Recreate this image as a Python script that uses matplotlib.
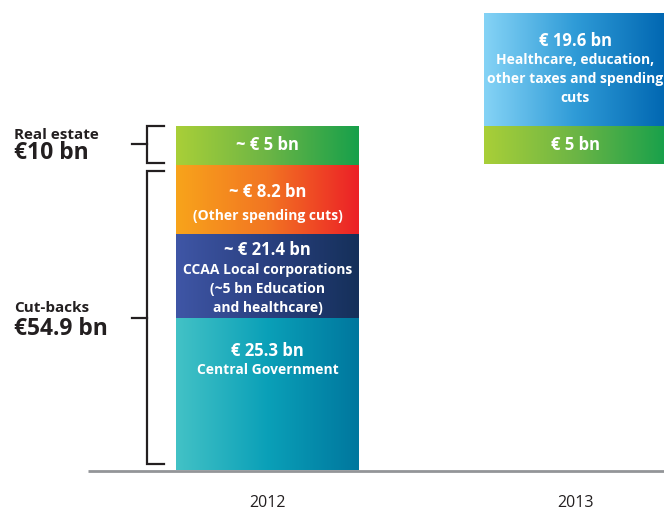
import numpy as np
import matplotlib.pyplot as plt
from matplotlib.colors import LinearSegmentedColormap

plt.rcParams['font.family'] = ['Open Sans', 'DejaVu Sans']

# data (segments drawn bottom to top; bar heights as drawn, the chart is not to scale)
years = ['2012', '2013']
seg_2012 = [15.2, 8.4, 6.9, 3.9]
seg_2013 = [3.8, 11.3]
base_2013 = 30.6  # 2013 bar starts where the 2012 real-estate block starts
values_2012 = ['€ 25.3 bn', '~ € 21.4 bn', '~ € 8.2 bn', '~ € 5 bn']
notes_2012 = ['Central Government', 'CCAA Local corporations\n(~5 bn Education\nand healthcare)',
              '(Other spending cuts)', '']
values_2013 = ['€ 5 bn', '€ 19.6 bn']
notes_2013 = ['', 'Healthcare, education,\nother taxes and spending\ncuts']
group_names = ['Real estate', 'Cut-backs']
group_totals = ['€10 bn', '€54.9 bn']

# gradients left -> right
grad_2012 = [['#43c2c6', '#0aa0b8', '#00779e'],
             ['#3f56a6', '#2a4080', '#15305a'],
             ['#f8a41b', '#f27522', '#ec2027'],
             ['#a9cf38', '#6cb545', '#17a04b']]
grad_2013 = [['#a9cf38', '#6cb545', '#17a04b'],
             ['#85d3f6', '#2f9bd7', '#0066b1']]

# where the labels sit, measured down from the segment top
val_off_2012 = [3.3, 1.6, 2.7, None]
note_off_2012 = [5.2, 5.5, 5.1, None]
val_off_2013 = [None, 2.8]
note_off_2013 = [None, 6.6]

dark = '#231f20'
W = 0.595

fig = plt.figure(figsize=(6.64, 5.13), dpi=100)
ax = fig.add_axes([0, 0, 1, 1])


def grad_bar(x, bottom, height, colors):
    bar = ax.bar(x, height, W, bottom=bottom, color='none', edgecolor='none')[0]
    cmap = LinearSegmentedColormap.from_list('g', colors)
    img = ax.imshow(np.linspace(0, 1, 256).reshape(1, -1), cmap=cmap, aspect='auto',
                    extent=(x - W / 2, x + W / 2, bottom, bottom + height), zorder=1,
                    interpolation='bilinear')
    img.set_clip_path(bar)


def put_labels(x, bottom, height, value, note, voff, noff):
    top = bottom + height
    if voff is None:
        ax.text(x, bottom + height / 2, value, ha='center', va='center', color='white',
                fontsize=12, fontweight='bold', zorder=3)
        return
    ax.text(x, top - voff, value, ha='center', va='center', color='white',
            fontsize=12, fontweight='bold', zorder=3)
    ax.text(x, top - noff, note, ha='center', va='center', color='white',
            fontsize=10, fontweight='bold', linespacing=1.42, zorder=3)


bottom = 0
for h, c, v, n, vo, no in zip(seg_2012, grad_2012, values_2012, notes_2012, val_off_2012, note_off_2012):
    grad_bar(0, bottom, h, c)
    put_labels(0, bottom, h, v, n, vo, no)
    bottom += h

bottom = base_2013
for h, c, v, n, vo, no in zip(seg_2013, grad_2013, values_2013, notes_2013, val_off_2013, note_off_2013):
    grad_bar(1, bottom, h, c)
    put_labels(1, bottom, h, v, n, vo, no)
    bottom += h

# baseline
ax.plot([-0.584, 1.3], [-0.1, -0.1], color='#939598', lw=2, solid_capstyle='butt', zorder=2)

# brackets
cum = np.cumsum(seg_2012)
bx, bt, bl = -0.392, -0.337, -0.441
brackets = [(cum[2] + 0.2, cum[3], cum[2] + 0.2 + (cum[3] - cum[2] - 0.2) / 2),
            (0.6, cum[2] - 0.6, seg_2012[0])]
for lo, hi, mid in brackets:
    ax.plot([bt, bx, bx, bt], [hi, hi, lo, lo], color=dark, lw=1.6, solid_joinstyle='miter')
    ax.plot([bl, bx], [mid, mid], color=dark, lw=1.6)

# bracket labels
for name, total, yb, gap in zip(group_names, group_totals, [33.1, 15.75], [2.05, 2.25]):
    ax.text(-0.824, yb, name, ha='left', va='baseline', color=dark, fontsize=11, fontweight='bold')
    ax.text(-0.824, yb - gap, total, ha='left', va='baseline', color=dark, fontsize=16.5, fontweight='bold')

for i, yr in enumerate(years):
    ax.text(i, -3.3, yr, ha='center', va='center', color=dark, fontsize=11.5)

ax.set_xlim(-0.870, 1.289)
ax.set_ylim(-4.3, 47.0)
ax.axis('off')

fig.savefig('out.png', dpi=100)
